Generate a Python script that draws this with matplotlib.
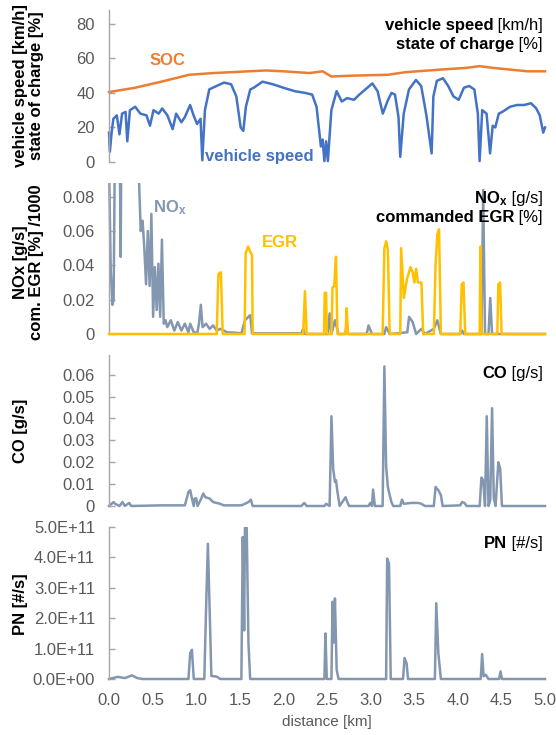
import matplotlib
matplotlib.use("Agg")
import matplotlib.pyplot as plt
from matplotlib.patches import Rectangle
import numpy as np

plt.rcParams['font.family'] = ['Liberation Sans', 'DejaVu Sans']
plt.rcParams['mathtext.fontset'] = 'custom'
plt.rcParams['mathtext.rm'] = 'Liberation Sans'
plt.rcParams['mathtext.bf'] = 'Liberation Sans:bold'
plt.rcParams['mathtext.it'] = 'Liberation Sans:italic'

# ---------------- data (distance in km) ----------------
speed_km = [0.00, 0.01, 0.03, 0.05, 0.09, 0.12, 0.15, 0.19, 0.21, 0.24, 0.30, 0.36, 0.43, 0.47,
            0.51, 0.57, 0.61, 0.67, 0.73, 0.77, 0.83, 0.87, 0.93, 0.97, 1.01, 1.05, 1.07, 1.10,
            1.15, 1.19, 1.32, 1.40, 1.46, 1.51, 1.54, 1.57, 1.62, 1.66, 1.76, 1.88, 2.00, 2.13,
            2.25, 2.33, 2.38, 2.43, 2.45, 2.47, 2.49, 2.51, 2.55, 2.61, 2.67, 2.73, 2.81, 2.87,
            2.94, 3.02, 3.08, 3.14, 3.20, 3.24, 3.28, 3.32, 3.34, 3.38, 3.44, 3.52, 3.58, 3.64,
            3.70, 3.72, 3.76, 3.83, 3.89, 3.95, 4.01, 4.07, 4.13, 4.19, 4.23, 4.25, 4.28, 4.33,
            4.37, 4.40, 4.43, 4.47, 4.51, 4.60, 4.68, 4.76, 4.84, 4.90, 4.94, 4.98, 5.00]
speed_val = [17, 6, 17, 25, 27, 16, 28, 29, 12, 30, 32, 28, 27, 21,
             30, 28, 31, 27, 19, 28, 23, 26, 33, 27, 22, 25, 1, 30,
             42, 43, 46, 45, 38, 20, 18, 32, 42, 43, 46.5, 45, 43, 41,
             40, 39, 32, 9, 13, 0.5, 12, 0.5, 30, 41, 35, 37, 36, 39,
             42, 45.5, 41, 28, 36, 40, 39, 26, 3, 28, 42, 47.5, 44, 27,
             5, 38, 47, 48.5, 44, 38, 36, 43, 44, 42, 28, 0.5, 30, 28,
             5, 21, 20, 28, 29, 32, 33, 33, 34, 31, 27, 17, 20]

soc_km = [0.00, 0.30, 0.60, 0.92, 1.20, 1.60, 1.80, 2.00, 2.30, 2.45, 2.55, 2.80, 3.20, 3.40,
          3.80, 4.10, 4.25, 4.40, 4.60, 4.80, 5.00]
soc_val = [40.5, 43, 46.5, 50.5, 51.5, 52.5, 53, 52.5, 51.5, 52.5, 49.5, 50, 50.5, 52,
           53.5, 54.5, 55.5, 54.5, 53.5, 52.5, 52.5]

nox_km = [0.000, 0.020, 0.040, 0.053, 0.069, 0.093, 0.121, 0.134, 0.142, 0.300, 0.324, 0.364,
          0.385, 0.405, 0.425, 0.445, 0.466, 0.486, 0.506, 0.526, 0.547, 0.567, 0.587, 0.607,
          0.628, 0.648, 0.668, 0.709, 0.749, 0.789, 0.830, 0.870, 0.911, 0.931, 0.972, 1.012,
          1.032, 1.053, 1.073, 1.113, 1.154, 1.194, 1.235, 1.275, 1.356, 1.437, 1.518, 1.559,
          1.599, 1.619, 1.640, 2.206, 2.227, 2.247, 2.510, 2.530, 2.551, 2.591, 2.632, 2.713,
          2.725, 2.741, 2.955, 2.976, 3.016, 3.158, 3.178, 3.219, 3.421, 3.441, 3.482, 3.522,
          3.583, 3.623, 3.725, 3.765, 3.806, 4.028, 4.049, 4.069, 4.271, 4.291, 4.312, 4.352,
          4.372, 4.393, 5.000]
nox_val = [0.10, 0.037, 0.017, 0.020, 0.12, 0.12, 0.12, 0.045, 0.12, 0.15, 0.12, 0.060,
           0.066, 0.050, 0.029, 0.060, 0.028, 0.070, 0.010, 0.039, 0.014, 0.041, 0.010, 0.055,
           0.006, 0.008, 0.004, 0.008, 0.002, 0.007, 0.002, 0.006, 0.001, 0.006, 0.001, 0.0005,
           0.006, 0.017, 0.004, 0.006, 0.003, 0.005, 0.002, 0.003, 0.001, 0.0008, 0.0004, 0.008,
           0.010, 0.011, 0.0004, 0.0004, 0.003, 0.0, 0.0, 0.012, 0.0, 0.008, 0.0, 0.0,
           0.007, 0.0, 0.0, 0.005, 0.0, 0.0, 0.004, 0.0, 0.001, 0.010, 0.007, 0.0,
           0.003, 0.0, 0.003, 0.008, 0.0, 0.0, 0.002, 0.0, 0.0, 0.084, 0.0, 0.0,
           0.021, 0.0, 0.0]

egr_km = [0.000, 1.235, 1.255, 1.283, 1.304, 1.555, 1.567, 1.595, 1.619, 1.640, 1.648,
          2.227, 2.247, 2.267, 2.466, 2.474, 2.490, 2.498, 2.551, 2.563, 2.583, 2.603, 2.620,
          2.713, 2.725, 2.741, 3.138, 3.158, 3.178, 3.198, 3.219, 3.340, 3.350, 3.381, 3.417,
          3.458, 3.482, 3.502, 3.522, 3.543, 3.583, 3.603, 3.725, 3.745, 3.765, 3.785, 3.806,
          4.028, 4.045, 4.065, 4.085, 4.251, 4.259, 4.271, 4.453, 4.465, 4.485, 4.502, 5.000]
egr_val = [0, 0, 0.035, 0.036, 0, 0, 0.047, 0.051, 0.048, 0.046, 0,
           0, 0.025, 0, 0, 0.024, 0.024, 0, 0, 0.027, 0.028, 0.045, 0,
           0, 0.015, 0, 0, 0.050, 0.054, 0.049, 0, 0, 0.050, 0.021, 0.032,
           0.039, 0.036, 0.030, 0.038, 0.030, 0.030, 0, 0, 0.040, 0.058, 0.061, 0,
           0, 0.029, 0.030, 0, 0, 0.051, 0, 0, 0.029, 0.030, 0, 0]

co_km = [0.000, 0.053, 0.069, 0.121, 0.154, 0.182, 0.231, 0.255, 0.607, 0.870, 0.911, 0.931,
         0.951, 0.972, 0.984, 1.000, 1.016, 1.053, 1.081, 1.105, 1.154, 1.194, 1.275, 1.316,
         1.518, 1.559, 1.599, 1.627, 1.648, 2.206, 2.239, 2.267, 2.470, 2.490, 2.530, 2.551,
         2.571, 2.591, 2.603, 2.620, 2.645, 2.713, 2.733, 2.753, 2.976, 2.996, 3.016, 3.028,
         3.049, 3.138, 3.158, 3.178, 3.198, 3.219, 3.239, 3.259, 3.340, 3.360, 3.381, 3.462,
         3.543, 3.583, 3.623, 3.725, 3.745, 3.777, 3.806, 3.826, 4.028, 4.049, 4.077, 4.101,
         4.251, 4.271, 4.291, 4.312, 4.332, 4.352, 4.372, 4.393, 4.413, 4.433, 4.465, 4.486,
         4.506, 5.000]
co_val = [0, 0.0018, 0.001, 0, 0.0018, 0, 0.0014, 0, 0.0003, 0.0003, 0.0064, 0.0072,
          0.0035, 0, 0.0035, 0.0035, 0, 0.003, 0.0057, 0.004, 0.0034, 0.0018, 0.001, 0.0003,
          0.0003, 0.001, 0.0018, 0.0029, 0, 0, 0.0014, 0, 0, 0.001, 0, 0.041,
          0.017, 0.011, 0.0118, 0.0064, 0, 0.004, 0.0018, 0, 0, 0.0014, 0, 0.0075,
          0, 0, 0.0638, 0.018, 0.0087, 0.005, 0.0018, 0, 0, 0.0029, 0.001, 0.0014,
          0.0014, 0.001, 0, 0, 0.0087, 0.0072, 0.005, 0, 0.0003, 0.0018, 0.0014, 0,
          0, 0.013, 0.0118, 0, 0.041, 0, 0.0026, 0.0447, 0.0034, 0, 0.020, 0.017,
          0, 0]

pn_km = [0.000, 0.101, 0.182, 0.263, 0.324, 0.385, 0.911, 0.931, 0.951, 0.972, 1.093, 1.113,
         1.134, 1.154, 1.174, 1.235, 1.275, 1.518, 1.534, 1.550, 1.559, 1.579, 1.599, 1.619,
         2.470, 2.482, 2.498, 2.551, 2.563, 2.579, 2.591, 2.611, 2.632, 3.178, 3.190, 3.211,
         3.231, 3.372, 3.389, 3.413, 3.429, 3.737, 3.753, 3.777, 3.806, 4.263, 4.279, 4.296,
         4.320, 4.352, 4.474, 4.490, 4.506, 5.000]
pn_val = [0, 0.07e11, 0.03e11, 0.12e11, 0.03e11, 0, 0, 0.85e11, 0.96e11, 0, 0, 2.3e11,
          4.45e11, 2.3e11, 0.1e11, 0.08e11, 0, 0, 4.67e11, 1.6e11, 5.0e11, 5.0e11, 1.2e11, 0,
          0, 1.5e11, 0, 0, 2.54e11, 1.2e11, 2.65e11, 0.3e11, 0, 0, 3.96e11, 3.8e11,
          0, 0, 0.69e11, 0.52e11, 0, 0, 2.49e11, 0.85e11, 0, 0, 0.82e11, 0.09e11,
          0.14e11, 0, 0, 0.25e11, 0, 0]

x_ticks = [0.0, 0.5, 1.0, 1.5, 2.0, 2.5, 3.0, 3.5, 4.0, 4.5, 5.0]
ticks1 = [0, 20, 40, 60, 80]
ticks2 = [0, 0.02, 0.04, 0.06, 0.08]
ticks3 = [0, 0.01, 0.02, 0.03, 0.04, 0.05, 0.06]
ticks4 = [0, 1e11, 2e11, 3e11, 4e11, 5e11]

# ---------------- styling ----------------
C_SPEED = '#4472C4'
C_SOC = '#ED7D31'
C_GRAY = '#8497B0'
C_EGR = '#FFC000'
C_TICK = '#595959'
C_SPINE = '#A6A6A6'
LW = 1.8

W, H = 556, 735
fig = plt.figure(figsize=(W / 100, H / 100), dpi=100)


def axrect(top, bottom):
    return [109 / W, 1 - bottom / H, 436 / W, (bottom - top) / H]


def style(ax, ylim, yticks, fmt, show_x=False):
    ax.set_xlim(0, 5)
    ax.set_ylim(*ylim)
    for s in ['top', 'right', 'bottom']:
        ax.spines[s].set_visible(False)
    ax.spines['left'].set_color(C_SPINE)
    ax.spines['left'].set_linewidth(1.0)
    ax.set_yticks(yticks)
    ax.set_yticklabels([fmt(v) for v in yticks])
    ax.tick_params(axis='y', direction='in', length=4, width=1.0, color=C_SPINE,
                   labelsize=12, labelcolor=C_TICK, pad=10)
    ax.set_xticks(x_ticks)
    ax.tick_params(axis='x', length=0, labelsize=12, labelcolor=C_TICK, pad=10)
    if show_x:
        ax.set_xticklabels([f"{v:.1f}" for v in x_ticks])
    else:
        ax.set_xticklabels([])
    ax.patch.set_visible(False)


def plot(ax, x, y, color, z=2):
    ln, = ax.plot(x, y, color=color, lw=LW, solid_joinstyle='round', zorder=z)
    ln.set_clip_path(Rectangle((-0.02, -0.06), 1.04, 1.06, transform=ax.transAxes))
    return ln


ax1 = fig.add_axes(axrect(10, 162))
ax2 = fig.add_axes(axrect(183, 334))
ax3 = fig.add_axes(axrect(355, 506))
ax4 = fig.add_axes(axrect(527, 679))

style(ax1, (0, 88), ticks1, lambda v: f"{v:g}")
style(ax2, (0, 0.088), ticks2, lambda v: "0" if v == 0 else f"{v:.2f}")
style(ax3, (0, 0.069), ticks3, lambda v: "0" if v == 0 else f"{v:.2f}")
style(ax4, (0, 5e11), ticks4, lambda v: f"{v:.1E}".replace("E+", "E+"), show_x=True)

plot(ax1, speed_km, speed_val, C_SPEED)
plot(ax1, soc_km, soc_val, C_SOC)
plot(ax2, nox_km, nox_val, C_GRAY, z=2)
plot(ax2, egr_km, egr_val, C_EGR, z=3)
plot(ax3, co_km, co_val, C_GRAY)
plot(ax4, pn_km, pn_val, C_GRAY)

# in-plot series labels
ax1.text(0.47, 59, "SOC", color=C_SOC, fontsize=12, fontweight='bold', va='center', ha='left')
ax1.text(1.10, 3, "vehicle speed", color=C_SPEED, fontsize=12, fontweight='bold',
         va='center', ha='left')
ax2.text(0.50, 0.0735, r"NO$_{\mathbf{x}}$", color=C_GRAY, fontsize=12, fontweight='bold',
         va='center', ha='left')
ax2.text(1.75, 0.0536, "EGR", color=C_EGR, fontsize=12, fontweight='bold', va='center', ha='left')

# y-axis titles
ylab = dict(rotation=90, ha='center', va='center', fontsize=12, fontweight='bold',
            linespacing=1.05, multialignment='center', color='black')
fig.text(28.5 / W, 1 - 86 / H, "vehicle speed [km/h]\nstate of charge [%]", **ylab)
fig.text(28.5 / W, 1 - 262 / H, "NOx [g/s]\ncom. EGR [%] /1000", **ylab)
fig.text(21 / W, 1 - 431 / H, "CO [g/s]", **ylab)
fig.text(21 / W, 1 - 604 / H, "PN [#/s]", **ylab)

fig.text(327 / W, 1 - 722 / H, "distance [km]", ha='center', va='center', fontsize=11,
         color=C_TICK)

# right-aligned rich titles
renderer = fig.canvas.get_renderer()


def rich(x_px, y_px, parts, fs=12):
    x = x_px / W
    y = 1 - y_px / H
    for txt, wt in reversed(parts):
        t = fig.text(x, y, txt, ha='right', va='baseline', fontsize=fs, fontweight=wt,
                     color='black')
        bb = t.get_window_extent(renderer)
        x = bb.x0 / fig.bbox.width


rich(543, 30, [("vehicle speed", 'bold'), (" [km/h]", 'normal')])
rich(543, 49, [("state of charge", 'bold'), (" [%]", 'normal')])
rich(543, 203, [(r"NO$_{\mathbf{x}}$", 'bold'), (" [g/s]", 'normal')])
rich(543, 222, [("commanded EGR", 'bold'), (" [%]", 'normal')])
rich(543, 378, [("CO", 'bold'), (" [g/s]", 'normal')])
rich(543, 548, [("PN", 'bold'), (" [#/s]", 'normal')])

fig.savefig("out.png", dpi=100)
